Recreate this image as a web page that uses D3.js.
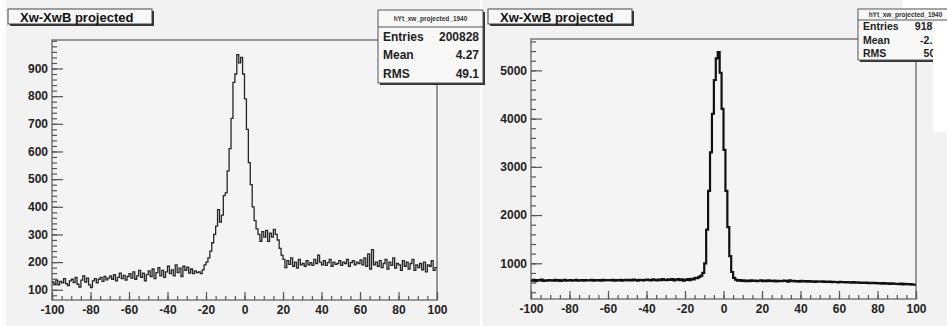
<!DOCTYPE html>
<head>
    <meta charset="utf-8">
    <script src="https://d3js.org/d3.v7.min.js"></script>
    <style>
        body { margin: 0; background: #fff; }
        text { font-family: "Liberation Sans", Arial, sans-serif; font-weight: bold; }
        .tick text { fill: #222; font-size: 12px; }
    </style>
</head>
<body>
<script>
    // histogram bins: -100 .. 100, one unit wide
    var binEdges = d3.range(-100, 101, 1);

    var xMajor = [-100, -80, -60, -40, -20, 0, 20, 40, 60, 80, 100];
    var leftYMajor = [100, 200, 300, 400, 500, 600, 700, 800, 900];
    var rightYMajor = [1000, 2000, 3000, 4000, 5000];

    // left histogram, counts per bin
    var leftCounts = [
        128, 120, 135, 118, 130, 125, 140, 122, 115, 132,
        138, 126, 145, 120, 110, 135, 150, 128, 142, 118,
        108, 132, 140, 125, 138, 145, 130, 148, 136, 142,
        150, 138, 155, 132, 145, 160, 140, 152, 135, 148,
        158, 142, 165, 138, 150, 170, 145, 160, 132, 155,
        168, 148, 175, 140, 162, 180, 150, 170, 145, 165,
        185, 158, 172, 150, 190, 162, 178, 148, 185, 170,
        182, 160, 175, 158, 168, 162, 165, 158, 172, 190,
        200, 215, 240, 270, 300, 330, 390, 345, 370, 440,
        450, 530, 610, 720, 850, 880, 950, 920, 940, 880,
        790, 680, 560, 480, 400, 350, 320, 300, 275, 310,
        290, 315, 275, 305, 290, 318, 300, 280, 250, 225,
        210, 180, 205, 192, 215, 185, 200, 178, 210, 190,
        195, 185, 205, 190, 198, 188, 210, 195, 225, 200,
        190, 205, 188, 198, 210, 185, 200, 192, 195, 205,
        188, 200, 195, 210, 185, 198, 205, 190, 200, 195,
        208, 190, 215, 185, 230, 175, 245, 190, 200, 185,
        205, 180, 195, 210, 175, 200, 188, 215, 178, 195,
        190, 170, 205, 185, 200, 175, 195, 210, 170, 190,
        180, 195, 172, 200, 165, 190, 185, 205, 170, 180
    ];

    // right histogram, counts per bin
    var rightCounts = [
        640, 655, 630, 650, 645, 660, 635, 648, 640, 652,
        645, 638, 655, 642, 650, 636, 648, 655, 640, 645,
        650, 642, 648, 655, 638, 646, 652, 640, 650, 645,
        648, 655, 640, 652, 646, 650, 642, 656, 645, 650,
        652, 645, 655, 640, 650, 648, 656, 642, 650, 655,
        648, 655, 645, 660, 650, 642, 658, 650, 645, 655,
        660, 650, 645, 665, 655, 648, 662, 652, 670, 655,
        650, 668, 655, 672, 648, 660, 675, 650, 665, 640,
        655, 670, 650, 680, 665, 700, 690, 720, 745, 800,
        1000, 1700, 2500, 3300, 4100, 4800, 5250, 5380, 4950, 4200,
        3350, 2500, 1750, 1150, 820, 700, 660, 640, 650, 635,
        645, 632, 640, 628, 648, 635, 642, 630, 638, 645,
        632, 640, 628, 645, 635, 630, 642, 625, 638, 632,
        628, 640, 635, 622, 645, 630, 638, 625, 632, 620,
        635, 625, 630, 618, 632, 622, 628, 615, 625, 620,
        618, 625, 612, 620, 615, 622, 610, 618, 612, 605,
        615, 608, 612, 602, 610, 605, 600, 608, 598, 605,
        600, 595, 602, 592, 598, 590, 596, 588, 594, 590,
        585, 592, 580, 588, 578, 585, 575, 582, 578, 572,
        575, 568, 578, 565, 572, 568, 562, 570, 560, 555
    ];

    var statLabels = ["Entries", "Mean", "RMS"];
    var leftStats = ["200828", "4.27", "49.1"];
    var rightStats = ["91873", "-2.18", "50.4"];

    var svg = d3.select("body").append("svg")
        .attr("width", 947)
        .attr("height", 326);

    // pad backgrounds
    svg.append("rect").attr("x", 6).attr("y", 0).attr("width", 474).attr("height", 326).attr("fill", "#f2f2f2");
    svg.append("rect").attr("x", 483).attr("y", 0).attr("width", 464).attr("height", 326).attr("fill", "#f2f2f2");
    svg.append("line").attr("x1", 482).attr("x2", 482).attr("y1", 0).attr("y2", 326)
        .attr("stroke", "#fafafa").attr("stroke-width", 2);

    // plain hyphen for negatives, like the original
    var fmt = function (d) { return String(d); };

    function drawPanel(cfg) {
        var x = d3.scaleLinear().domain([-100, 100]).range([cfg.x0, cfg.x1]);
        var y = d3.scaleLinear().domain(cfg.yDomain).range([cfg.y1, cfg.y0]);
        var g = svg.append("g");

        // frame
        g.append("rect")
            .attr("x", cfg.x0).attr("y", cfg.y0)
            .attr("width", cfg.x1 - cfg.x0).attr("height", cfg.y1 - cfg.y0)
            .attr("fill", "#f4f4f4").attr("stroke", "#7a7a7a").attr("stroke-width", 1.5);

        // minor + major ticks on y
        g.append("g").attr("transform", "translate(" + cfg.x0 + ",0)")
            .call(d3.axisLeft(y).tickValues(cfg.yMinor).tickSize(-5).tickFormat(""))
            .call(function (a) { a.select(".domain").remove(); });
        g.append("g").attr("transform", "translate(" + cfg.x0 + ",0)")
            .call(d3.axisLeft(y).tickValues(cfg.yMajor).tickSize(-11).tickPadding(4).tickFormat(fmt))
            .call(function (a) { a.select(".domain").remove(); });

        // minor + major ticks on x
        g.append("g").attr("transform", "translate(0," + cfg.y1 + ")")
            .call(d3.axisBottom(x).tickValues(d3.range(-100, 101, 5)).tickSize(-4).tickFormat(""))
            .call(function (a) { a.select(".domain").remove(); });
        g.append("g").attr("transform", "translate(0," + cfg.y1 + ")")
            .call(d3.axisBottom(x).tickValues(xMajor).tickSize(-8).tickPadding(5).tickFormat(fmt))
            .call(function (a) { a.select(".domain").remove(); });

        g.selectAll(".tick line").attr("stroke", "#555").attr("stroke-width", 1.2);

        // step histogram
        var pts = [];
        cfg.counts.forEach(function (c, i) {
            pts.push([binEdges[i], c]);
            pts.push([binEdges[i + 1], c]);
        });
        g.append("path")
            .attr("d", d3.line().x(function (d) { return x(d[0]); }).y(function (d) { return y(d[1]); })(pts))
            .attr("fill", "none")
            .attr("stroke", cfg.lineColor)
            .attr("stroke-width", cfg.lineWidth)
            .attr("stroke-linejoin", "miter");

        // title box
        g.append("rect").attr("x", cfg.titleX + 2).attr("y", 11).attr("width", 144).attr("height", 15).attr("fill", "#333");
        g.append("rect").attr("x", cfg.titleX).attr("y", 9).attr("width", 144).attr("height", 15)
            .attr("fill", "#f8f8f8").attr("stroke", "#444").attr("stroke-width", 1);
        g.append("text").attr("x", cfg.titleX + 12).attr("y", 21.5)
            .attr("font-size", "13px").attr("fill", "#111")
            .text("Xw-XwB projected");

        // stats box
        var s = cfg.stats;
        g.append("rect").attr("x", s.x + 2).attr("y", s.y + 2).attr("width", s.w).attr("height", s.h).attr("fill", "#333");
        g.append("rect").attr("x", s.x).attr("y", s.y).attr("width", s.w).attr("height", s.h)
            .attr("fill", "#f8f8f8").attr("stroke", "#555").attr("stroke-width", 1);
        g.append("line").attr("x1", s.x).attr("x2", s.x + s.w).attr("y1", s.y + s.head).attr("y2", s.y + s.head)
            .attr("stroke", "#555");
        g.append("text").attr("x", s.x + s.w / 2).attr("y", s.y + s.head / 2 + 2.5)
            .attr("text-anchor", "middle").attr("font-size", "6.5px").attr("font-weight", "normal").attr("fill", "#333")
            .text("hYt_xw_projected_1940");
        statLabels.forEach(function (lab, i) {
            var ty = s.y + s.head + s.row * (i + 0.5) + s.font * 0.36;
            g.append("text").attr("x", s.x + 5).attr("y", ty)
                .attr("font-size", s.font + "px").attr("fill", "#222").text(lab);
            g.append("text").attr("x", s.valX).attr("y", ty).attr("text-anchor", "end")
                .attr("font-size", s.font + "px").attr("fill", "#222").text(cfg.statValues[i]);
        });
    }

    drawPanel({
        x0: 52, x1: 437, y0: 40, y1: 300,
        yDomain: [63, 1003],
        yMajor: leftYMajor,
        yMinor: d3.range(80, 1001, 20),
        counts: leftCounts,
        lineColor: "#262626", lineWidth: 1.3,
        titleX: 8,
        stats: { x: 378, y: 10, w: 105, h: 73, head: 17, row: 18.5, font: 12, valX: 479 },
        statValues: leftStats
    });

    drawPanel({
        x0: 531, x1: 916, y0: 39, y1: 299,
        yDomain: [260, 5650],
        yMajor: rightYMajor,
        yMinor: d3.range(400, 5601, 200),
        counts: rightCounts,
        lineColor: "#111", lineWidth: 2.2,
        titleX: 488,
        stats: { x: 858, y: 9, w: 95, h: 51, head: 11, row: 13.3, font: 10.5, valX: 944 },
        statValues: rightStats
    });

    // white patches at the right edge of the original image
    svg.append("rect").attr("x", 933).attr("y", 21).attr("width", 14).attr("height", 111).attr("fill", "#fff");
    svg.append("rect").attr("x", 902).attr("y", 0).attr("width", 45).attr("height", 8).attr("fill", "#fff");
</script>
</body>
